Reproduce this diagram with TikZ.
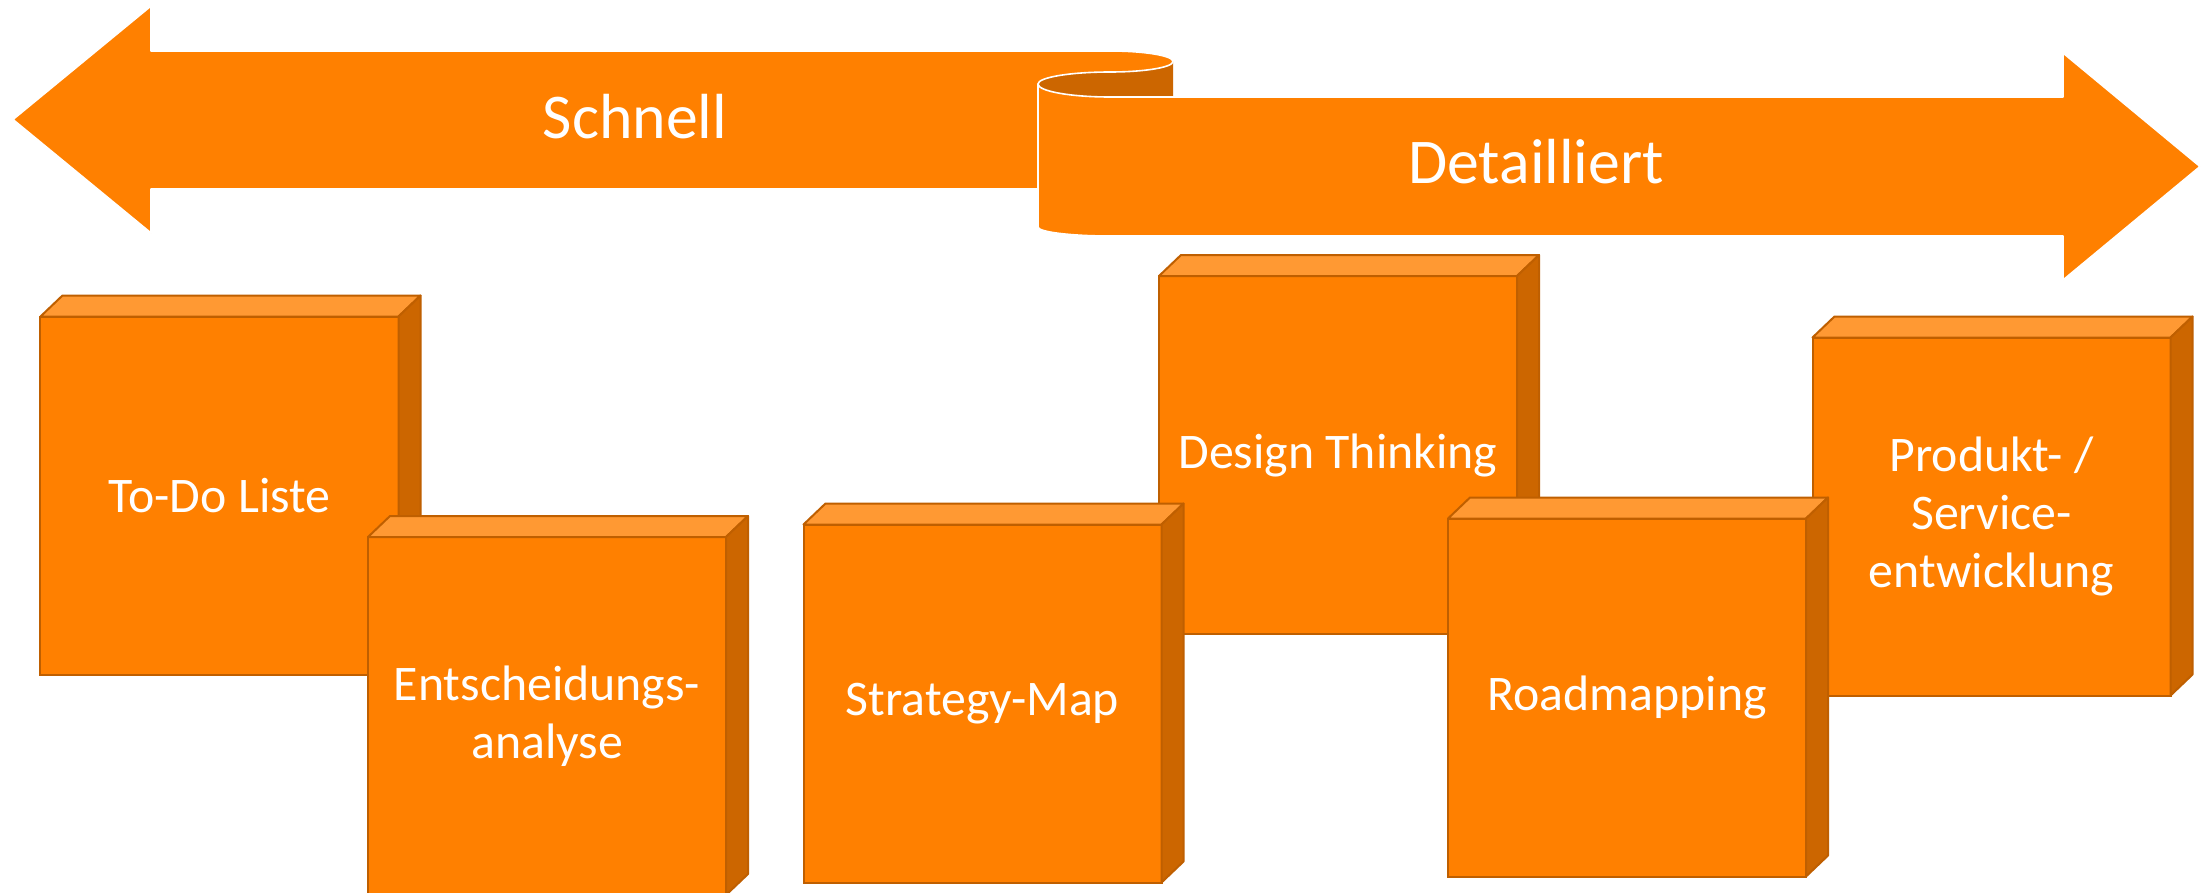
\documentclass[tikz,border=0pt]{standalone}
\usepackage{fontspec}
\setmainfont{Carlito}
\definecolor{orng}{HTML}{FF8000}
\definecolor{orngtop}{HTML}{FF9933}
\definecolor{orngside}{HTML}{CC6600}
\definecolor{orngedge}{HTML}{BF5F00}
\tikzset{
  bandshape/.style={fill=orng, draw=white, line width=1.6bp, line join=round},
  backshape/.style={fill=orngside},
  cubefront/.style={fill=orng, draw=orngedge, line width=2bp, minimum width=358bp, minimum height=358bp,
    inner sep=0pt, outer sep=0pt, align=center, text=white, font=\fontsize{50}{58}\selectfont},
  cubeedge/.style={draw=orngedge, line width=2bp, line join=round},
  arrowlbl/.style={text=white, inner sep=0pt, font=\fontsize{64}{72}\selectfont, anchor=base}
}
\newcommand\mycube[4]{%
  \node[cubefront] (#1) at (#2,#3) {#4};
  \draw[cubeedge, fill=orngtop] (#1.north west) -- ++(22,-21) -- ++(358,0) -- (#1.north east) -- cycle;
  \draw[cubeedge, fill=orngside] (#1.north east) -- ++(22,-21) -- ++(0,358) -- (#1.south east) -- cycle;
}
\begin{document}
\begin{tikzpicture}[x=1bp, y=-1bp]
\clip (0,0) rectangle (2208,892);
\fill[white] (0,0) rectangle (2208,892);
% back of the scroll
\path[backshape] (1173,61.5) -- (1173,97) -- (1110,97)
  arc[start angle=90, end angle=180, x radius=72, y radius=13]
  arc[start angle=180, end angle=270, x radius=72, y radius=12]
  arc[start angle=90, end angle=0, x radius=63, y radius=10.5] -- cycle;
% left arrow (Schnell)
\path[bandshape] (13,119.5) -- (151,6) -- (151,51) -- (1110,51)
  arc[start angle=-90, end angle=90, x radius=63, y radius=10.5]
  arc[start angle=-90, end angle=-180, x radius=72, y radius=12]
  -- (1038,189) -- (151,189) -- (151,233) -- cycle;
% right arrow (Detailliert)
\path[bandshape] (2200,166.5) -- (2063,53) -- (2063,97) -- (1110,97)
  arc[start angle=90, end angle=180, x radius=72, y radius=13]
  -- (1038,227)
  arc[start angle=180, end angle=90, x radius=72, y radius=9]
  -- (2063,236) -- (2063,280) -- cycle;
\node[arrowlbl] (schnell) at (635,138) {Schnell};
\node[arrowlbl] (detail) at (1536,183) {Detailliert};
% cubes
\mycube{todo}{219.5}{495.5}{To-Do Liste}
\mycube{entsch}{547}{716}{Entscheidungs-\\analyse}
\mycube{design}{1338}{455}{Design Thinking}
\mycube{strat}{982.5}{703.5}{Strategy-Map}
\mycube{produkt}{1991.5}{516.5}{Produkt- /\\Service-\\entwicklung}
\mycube{road}{1627}{697.5}{Roadmapping}
\end{tikzpicture}
\end{document}
